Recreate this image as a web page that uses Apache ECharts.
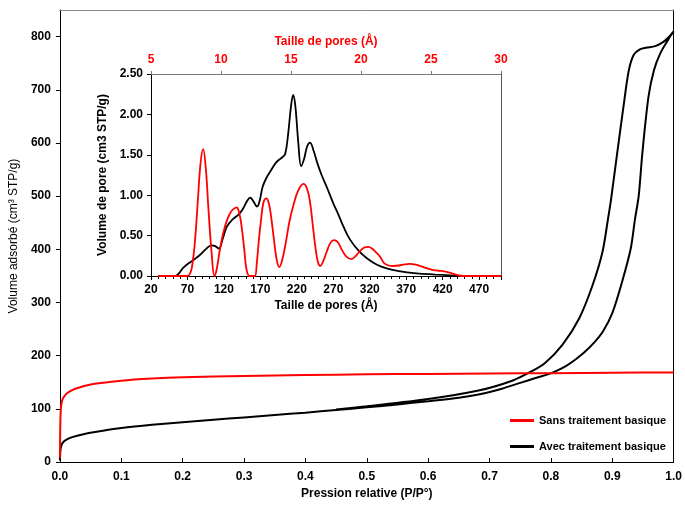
<!DOCTYPE html>
<html><head><meta charset="utf-8">
<script src="https://cdn.jsdelivr.net/npm/echarts@6/dist/echarts.min.js"></script>
<style>html,body{margin:0;padding:0;background:#fff}#c{width:685px;height:505px}</style>
</head><body><div id="c"></div>
<script>
// Main isotherms: [P/P0, volume adsorbed]
const sansTraitement = [[0,8],[0.0003,45],[0.0008,80],[0.0015,100],[0.003,113],[0.006,122],[0.012,130],[0.025,138],[0.05,146],[0.1,153],[0.15,157],[0.2,159.5],[0.3,162],[0.4,163.8],[0.5,165],[0.6,165.8],[0.7,166.5],[0.8,167.2],[0.9,168],[1.0,168.6]];
const avecTraitement = [[0,3],[0.0008,22],[0.002,30],[0.005,37],[0.01,42],[0.02,47],[0.04,53],[0.07,59],[0.1,64],[0.15,70],[0.2,75],[0.25,79.5],[0.3,84],[0.35,88.5],[0.4,93],[0.45,98],[0.5,103],[0.55,108.5],[0.6,114.5],[0.65,121],[0.684,127.5],[0.72,138],[0.75,149],[0.775,158],[0.795,165],[0.81,172],[0.825,181],[0.84,193],[0.855,207],[0.87,224],[0.885,246],[0.9,280],[0.916,339],[0.93,401],[0.937,457],[0.943,500],[0.949,581],[0.959,687],[0.968,737],[0.978,768],[0.992,796],[1.0,810],
  [0.99,797],[0.982,789],[0.97,782],[0.955,779],[0.945,776],[0.935,766],[0.927,737],[0.919,675],[0.908,581],[0.898,494],[0.893,457],[0.884,395],[0.868,333],[0.846,270],[0.819,221],[0.79,186],[0.765,168.5],[0.738,153.5],[0.684,135],[0.6,118.5],[0.5,105],[0.45,99]];
// Inset pore size distributions: [pore size (Å), pore volume]
const psdSans = [[30,0],[50,0],[70,0],[73,0.02],[76,0.1],[80,0.4],[84,0.9],[88,1.4],[91.5,1.57],[95,1.35],[99,0.8],[103,0.3],[107,0],[110,0.08],[114,0.3],[119,0.53],[125,0.71],[131,0.81],[137.5,0.85],[141,0.78],[144,0.63],[148,0.32],[151,0.08],[155,0],[159,0],[162.5,0],[165,0.15],[168,0.45],[171,0.7],[174,0.9],[178,0.96],[181,0.92],[184,0.78],[188,0.5],[192,0.22],[196,0.11],[200,0.2],[205,0.42],[210,0.68],[216,0.9],[222,1.06],[229,1.14],[234,1.08],[238,0.92],[242,0.62],[246,0.32],[249,0.17],[252,0.124],[256,0.18],[261,0.3],[266,0.41],[271,0.445],[276,0.42],[282,0.32],[288,0.24],[295,0.21],[301,0.25],[307,0.31],[313,0.355],[318,0.36],[323,0.34],[329,0.29],[334,0.24],[338,0.18],[341,0.15],[346,0.13],[352,0.124],[360,0.13],[368,0.145],[375,0.15],[383,0.14],[392,0.115],[400,0.09],[407,0.074],[414,0.065],[421,0.06],[428,0.045],[435,0.025],[442,0.008],[448.5,0],[470,0],[500,0]];
const psdAvec = [[30,0],[45,0],[53,0],[58,0.03],[64,0.1],[72,0.16],[80,0.21],[87,0.26],[95,0.33],[103,0.38],[108,0.37],[113,0.34],[118,0.45],[124,0.61],[132,0.7],[140,0.76],[146,0.83],[152,0.93],[156,0.97],[160,0.93],[165.5,0.86],[169,0.93],[173,1.1],[178,1.21],[184,1.3],[192,1.41],[200,1.47],[204,1.51],[208,1.75],[212,2.1],[215,2.24],[218,2.1],[222,1.65],[226,1.36],[230,1.45],[234,1.6],[238,1.65],[243,1.55],[248,1.4],[254,1.25],[262,1.08],[270,0.9],[277,0.76],[284,0.61],[293,0.45],[305,0.31],[316,0.22],[330,0.14],[343,0.095],[360,0.06],[384,0.033],[410,0.018],[430,0.008],[445,0],[470,0]];
const seriesNames = ['Sans traitement basique','Avec traitement basique'];

const F = 'Arial, "Liberation Sans", sans-serif';
const bold = {fontFamily:F, fontWeight:'bold', fontSize:12, color:'#000'};
const chart = echarts.init(document.getElementById('c'), null, {renderer:'canvas'});
chart.setOption({
  animation:false,
  backgroundColor:'#fff',
  grid:[
    {left:58,right:10,top:10,bottom:40,show:false},
    {left:151,right:184,top:74,bottom:229,show:false}
  ],
  legend:{
    data:seriesNames, orient:'vertical', left:505, top:410, itemGap:15,
    itemWidth:24, itemHeight:3, icon:'rect',
    textStyle:{fontFamily:F,fontWeight:'bold',fontSize:11,color:'#000'}
  },
  xAxis:[
    {gridIndex:0,type:'value',min:0,max:1,interval:0.1,position:'bottom',
     name:'Pression relative (P/P°)',nameLocation:'middle',nameGap:23,nameTextStyle:bold,
     axisLine:{show:true,onZero:false,lineStyle:{color:'#000',width:1}},
     axisTick:{show:true,inside:true,length:4,lineStyle:{color:'#000'}},
     axisLabel:Object.assign({margin:9,formatter:v=>v.toFixed(1)},bold),
     splitLine:{show:false}},
    {gridIndex:0,type:'value',min:0,max:1,position:'top',
     axisLine:{show:true,onZero:false,lineStyle:{color:'#888',width:1}},axisTick:{show:false},axisLabel:{show:false},splitLine:{show:false}},
    {gridIndex:1,type:'value',min:20,max:500,interval:50,position:'bottom',
     name:'Taille de pores (Å)',nameLocation:'middle',nameGap:24,nameTextStyle:bold,
     axisLine:{show:true,onZero:false,lineStyle:{color:'#000',width:1}},
     axisTick:{show:true,length:4,lineStyle:{color:'#000'}},
     minorTick:{show:true,splitNumber:5,length:3,lineStyle:{color:'#000'}},
     axisLabel:Object.assign({margin:8,showMaxLabel:false},bold),
     splitLine:{show:false}},
    {gridIndex:1,type:'value',min:5,max:30,interval:5,position:'top',
     name:'Taille de pores (Å)',nameLocation:'middle',nameGap:26,nameTextStyle:Object.assign({},bold,{color:'#ff0000'}),
     axisLine:{show:true,onZero:false,lineStyle:{color:'#777',width:1}},
     axisTick:{show:true,length:3,lineStyle:{color:'#777'}},
     axisLabel:Object.assign({},bold,{color:'#ff0000',margin:8}),
     splitLine:{show:false}}
  ],
  yAxis:[
    {gridIndex:0,type:'value',min:0,max:850,interval:100,position:'left',
     name:'Volume adsorbé (cm³ STP/g)',nameLocation:'middle',nameGap:29,
     nameTextStyle:{fontFamily:F,fontSize:12,color:'#000'},
     axisLine:{show:true,onZero:false,lineStyle:{color:'#000',width:1}},
     axisTick:{show:true,length:4,lineStyle:{color:'#000'}},
     axisLabel:Object.assign({margin:9,showMaxLabel:false},bold),
     splitLine:{show:false}},
    {gridIndex:0,type:'value',min:0,max:850,position:'right',
     axisLine:{show:true,onZero:false,lineStyle:{color:'#000',width:1}},axisTick:{show:false},axisLabel:{show:false},splitLine:{show:false}},
    {gridIndex:1,type:'value',min:0,max:2.5,interval:0.5,position:'left',
     name:'Volume de pore (cm3 STP/g)',nameLocation:'middle',nameGap:40,nameTextStyle:bold,
     axisLine:{show:true,onZero:false,lineStyle:{color:'#000',width:1}},
     axisTick:{show:true,length:4,lineStyle:{color:'#000'}},
     axisLabel:Object.assign({margin:8,formatter:v=>v.toFixed(2)},bold),
     splitLine:{show:false}},
    {gridIndex:1,type:'value',min:0,max:2.5,position:'right',
     axisLine:{show:true,onZero:false,lineStyle:{color:'#555',width:1}},axisTick:{show:false},axisLabel:{show:false},splitLine:{show:false}}
  ],
  series:[
    {name:seriesNames[1],type:'line',xAxisIndex:0,yAxisIndex:0,data:avecTraitement,showSymbol:false,smooth:0.3,
     lineStyle:{color:'#000',width:2},itemStyle:{color:'#000'},z:2},
    {name:seriesNames[0],type:'line',xAxisIndex:0,yAxisIndex:0,data:sansTraitement,showSymbol:false,smooth:0.3,
     lineStyle:{color:'#ff0000',width:2},itemStyle:{color:'#ff0000'},z:3},
    {name:seriesNames[1],type:'line',xAxisIndex:2,yAxisIndex:2,data:psdAvec,showSymbol:false,smooth:0.4,
     lineStyle:{color:'#000',width:1.8},itemStyle:{color:'#000'},z:6},
    {name:seriesNames[0],type:'line',xAxisIndex:2,yAxisIndex:2,data:psdSans,showSymbol:false,smooth:0.4,
     lineStyle:{color:'#ff0000',width:1.8},itemStyle:{color:'#ff0000'},z:7}
  ]
});
</script></body></html>
